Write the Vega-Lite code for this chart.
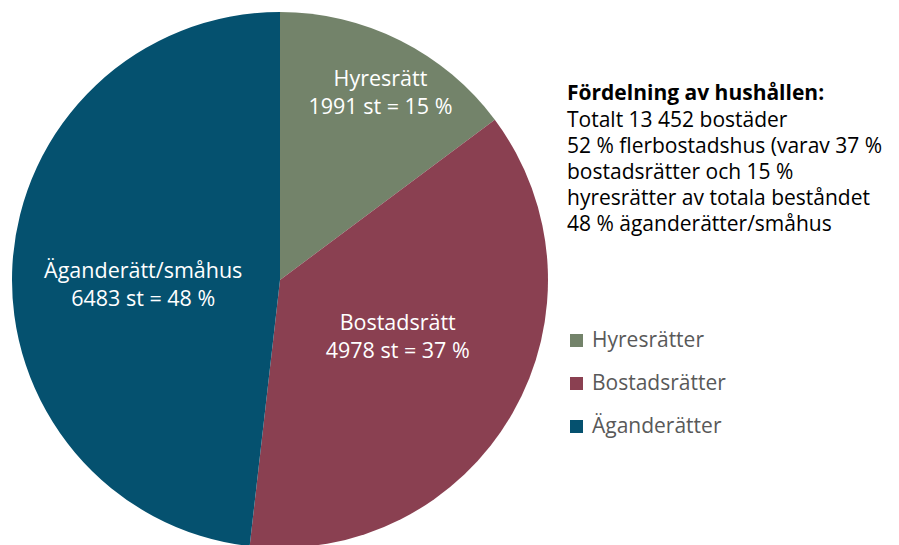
{
  "$schema": "https://vega.github.io/schema/vega-lite/v6.json",
  "width": 560,
  "height": 560,
  "autosize": {"type": "none"},
  "padding": {"left": 0, "top": 0, "right": 339, "bottom": 0},
  "background": "white",
  "config": {"view": {"stroke": null}, "font": "Open Sans"},
  "title": {
    "text": "Fördelning av hushållen:",
    "subtitle": ["Totalt 13 452 bostäder", "52 % flerbostadshus (varav 37 %", "bostadsrätter och 15 %", "hyresrätter av totala beståndet", "48 % äganderätter/småhus"],
    "anchor": "start",
    "frame": "group",
    "orient": "top",
    "dx": 567,
    "dy": 235,
    "offset": 0,
    "font": "Open Sans",
    "fontSize": 21,
    "fontWeight": "bold",
    "color": "#000000",
    "subtitleFont": "Open Sans",
    "subtitleFontSize": 21,
    "subtitleColor": "#000000",
    "subtitleLineHeight": 26,
    "subtitlePadding": 6
  },
  "data": {
    "values": [
      {"kind": "Hyresrätter", "label": "Hyresrätt\n1991 st = 15 %", "count": 1991, "rank": 1},
      {"kind": "Bostadsrätter", "label": "Bostadsrätt\n4978 st = 37 %", "count": 4978, "rank": 2},
      {"kind": "Äganderätter", "label": "Äganderätt/småhus\n6483 st = 48 %", "count": 6483, "rank": 3}
    ]
  },
  "encoding": {
    "theta": {"field": "count", "type": "quantitative", "stack": true},
    "order": {"field": "rank", "type": "quantitative"}
  },
  "layer": [
    {
      "mark": {"type": "arc", "outerRadius": 268},
      "encoding": {
        "color": {
          "field": "kind",
          "type": "nominal",
          "scale": {"domain": ["Hyresrätter", "Bostadsrätter", "Äganderätter"], "range": ["#73836A", "#8A4051", "#05516F"]},
          "legend": {
            "title": null,
            "orient": "none",
            "legendX": 566,
            "legendY": 330,
            "symbolType": "square",
            "symbolSize": 169,
            "symbolStrokeWidth": 0,
            "labelFontSize": 21,
            "labelColor": "#595959",
            "labelOffset": 5,
            "rowPadding": 21,
            "labelFont": "Open Sans"
          }
        }
      }
    },
    {
      "mark": {"type": "text", "radius": 224, "fontSize": 21.5, "color": "#ffffff", "lineBreak": "\n", "lineHeight": 28},
      "encoding": {
        "text": {"condition": {"test": "datum.kind === 'Hyresrätter'", "field": "label"}, "value": ""}
      }
    },
    {
      "mark": {"type": "text", "radius": 130, "dx": 5, "dy": -21, "fontSize": 21.5, "color": "#ffffff", "lineBreak": "\n", "lineHeight": 28},
      "encoding": {
        "text": {"condition": {"test": "datum.kind === 'Bostadsrätter'", "field": "label"}, "value": ""}
      }
    },
    {
      "mark": {"type": "text", "radius": 137, "fontSize": 21.5, "color": "#ffffff", "lineBreak": "\n", "lineHeight": 28},
      "encoding": {
        "text": {"condition": {"test": "datum.kind === 'Äganderätter'", "field": "label"}, "value": ""}
      }
    }
  ]
}
